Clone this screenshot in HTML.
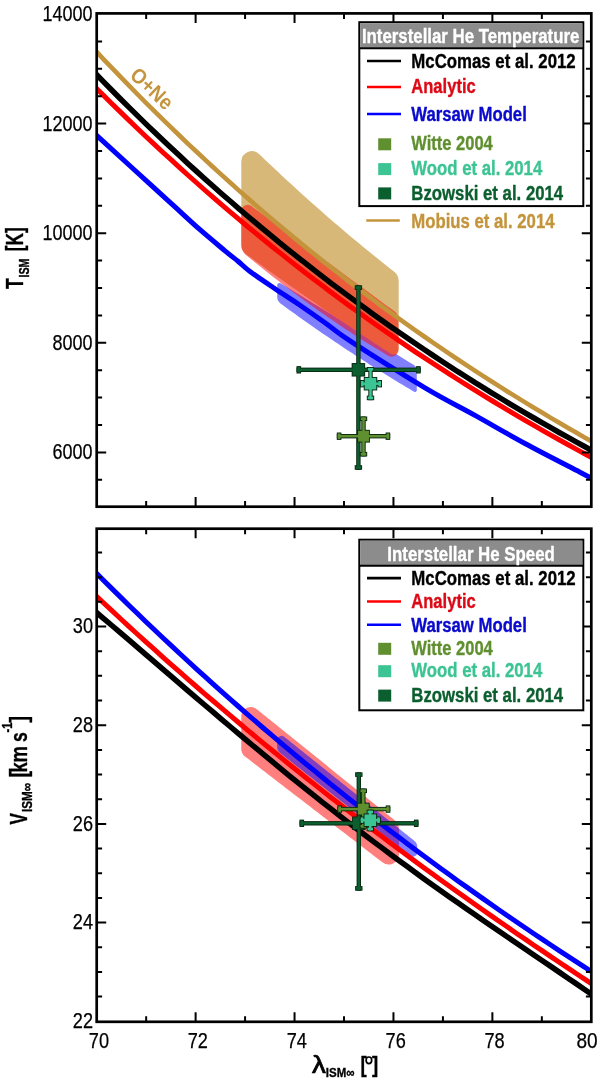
<!DOCTYPE html><html><head><meta charset="utf-8"><style>html,body{margin:0;padding:0;background:#fff;overflow:hidden}svg{display:block;will-change:transform}</style></head><body><svg width="600" height="1081" viewBox="0 0 600 1081" font-family='"Liberation Sans", sans-serif'>
<rect width="600" height="1081" fill="#fff"/>
<g>
<clipPath id="ct"><rect x="96.7" y="13.4" width="494.59999999999997" height="493.3"/></clipPath>
<clipPath id="cb"><rect x="96.7" y="528.7" width="494.59999999999997" height="493.0999999999999"/></clipPath>
<path d="M277.20,297.11 L277.20,285.20 A2.24,2.24 0 0 1 280.61,283.29 L280.78,283.39 L284.36,285.59 L287.94,287.78 L291.52,289.98 L295.10,292.17 L298.68,294.37 L302.26,296.56 L305.84,298.75 L309.42,300.95 L312.99,303.14 L316.57,305.34 L320.15,307.53 L323.73,309.72 L327.31,311.92 L330.89,314.11 L334.47,316.31 L338.05,318.50 L341.63,320.70 L345.21,322.89 L348.79,325.08 L352.37,327.28 L355.95,329.47 L359.53,331.67 L363.11,333.86 L366.69,336.06 L370.27,338.25 L373.85,340.44 L377.43,342.64 L381.01,344.83 L384.58,347.03 L388.16,349.22 L391.74,351.42 L395.32,353.61 L398.90,355.80 L402.48,358.00 L406.06,360.19 L409.64,362.39 L413.22,364.58 L414.24,365.21 A5.36,5.36 0 0 1 416.80,369.77 L416.80,390.29 A1.72,1.72 0 0 1 414.21,391.77 L413.22,391.19 L409.64,389.07 L406.06,386.94 L402.48,384.80 L398.90,382.64 L395.32,380.47 L391.74,378.28 L388.16,376.09 L384.58,373.87 L381.01,371.65 L377.43,369.41 L373.85,367.15 L370.27,364.89 L366.69,362.61 L363.11,360.31 L359.53,358.00 L355.95,355.68 L352.37,353.35 L348.79,351.00 L345.21,348.63 L341.63,346.25 L338.05,343.86 L334.47,341.46 L330.89,339.04 L327.31,336.61 L323.73,334.16 L320.15,331.70 L316.57,329.23 L312.99,326.74 L309.42,324.24 L305.84,321.72 L302.26,319.20 L298.68,316.65 L295.10,314.10 L291.52,311.53 L287.94,308.94 L284.36,306.35 L280.78,303.73 L280.43,303.47 A7.89,7.89 0 0 1 277.20,297.11 Z" fill="#0000ff" fill-opacity="0.5"/>
<path d="M241.30,244.73 L241.30,161.75 A10.56,10.56 0 0 1 259.23,154.17 L261.48,156.33 L265.52,160.19 L269.55,164.02 L273.59,167.83 L277.62,171.62 L281.66,175.38 L285.69,179.13 L289.73,182.85 L293.77,186.55 L297.80,190.23 L301.84,193.89 L305.87,197.53 L309.91,201.15 L313.95,204.74 L317.98,208.32 L322.02,211.87 L326.05,215.40 L330.09,218.91 L334.13,222.39 L338.16,225.86 L342.20,229.30 L346.23,232.73 L350.27,236.13 L354.31,239.51 L358.34,242.86 L362.38,246.20 L366.41,249.52 L370.45,252.81 L374.48,256.08 L378.52,259.33 L382.56,262.56 L386.59,265.77 L390.63,268.95 L393.97,271.57 A12.28,12.28 0 0 1 398.70,281.26 L398.70,348.96 A5.44,5.44 0 0 1 390.31,353.52 L386.59,351.10 L382.56,348.47 L378.52,345.82 L374.48,343.17 L370.45,340.50 L366.41,337.83 L362.38,335.15 L358.34,332.46 L354.31,329.77 L350.27,327.06 L346.23,324.35 L342.20,321.62 L338.16,318.89 L334.13,316.15 L330.09,313.40 L326.05,310.65 L322.02,307.88 L317.98,305.10 L313.95,302.32 L309.91,299.53 L305.87,296.73 L301.84,293.92 L297.80,291.10 L293.77,288.27 L289.73,285.44 L285.69,282.59 L281.66,279.74 L277.62,276.88 L273.59,274.01 L269.55,271.13 L265.52,268.24 L261.48,265.34 L257.44,262.44 L253.41,259.53 L249.37,256.60 L246.15,254.26 A11.79,11.79 0 0 1 241.30,244.73 Z" fill="#d8b878"/>
<path d="M241.25,245.09 L241.25,211.26 A6.42,6.42 0 0 1 251.48,206.09 L253.35,207.46 L257.38,210.43 L261.41,213.40 L265.44,216.37 L269.47,219.33 L273.51,222.30 L277.54,225.27 L281.57,228.24 L285.60,231.20 L289.63,234.17 L293.67,237.14 L297.70,240.11 L301.73,243.07 L305.76,246.04 L309.79,249.01 L313.83,251.98 L317.86,254.94 L321.89,257.91 L325.92,260.88 L329.96,263.85 L333.99,266.81 L338.02,269.78 L342.05,272.75 L346.08,275.72 L350.12,278.68 L354.15,281.65 L358.18,284.62 L362.21,287.59 L366.24,290.56 L370.28,293.52 L374.31,296.49 L378.34,299.46 L382.37,302.43 L386.40,305.39 L390.44,308.36 L394.47,311.33 L394.47,311.33 A9.89,9.89 0 0 1 398.50,319.30 L398.50,349.72 A6.91,6.91 0 0 1 388.12,355.70 L386.40,354.69 L382.37,352.29 L378.34,349.86 L374.31,347.40 L370.28,344.92 L366.24,342.41 L362.21,339.88 L358.18,337.31 L354.15,334.72 L350.12,332.10 L346.08,329.46 L342.05,326.78 L338.02,324.08 L333.99,321.36 L329.96,318.60 L325.92,315.82 L321.89,313.01 L317.86,310.17 L313.83,307.31 L309.79,304.42 L305.76,301.50 L301.73,298.55 L297.70,295.58 L293.67,292.58 L289.63,289.55 L285.60,286.50 L281.57,283.41 L277.54,280.31 L273.51,277.17 L269.47,274.00 L265.44,270.81 L261.41,267.59 L257.38,264.35 L253.35,261.07 L249.31,257.77 L245.86,254.93 A12.79,12.79 0 0 1 241.25,245.09 Z" fill="#ff0000" fill-opacity="0.5"/>
<g clip-path="url(#ct)" fill="none" stroke-linejoin="round">
<path d="M95.0,133.9 C97.5,136.2 100.8,139.2 110.0,147.6 C119.2,156.0 139.2,174.3 150.0,184.2 C160.8,194.1 166.7,199.3 175.0,206.9 C183.3,214.5 191.7,222.4 200.0,229.7 C208.3,237.0 218.7,245.5 225.0,250.8 C231.3,256.1 233.8,257.8 238.0,261.2 C242.2,264.7 243.8,266.9 250.0,271.5 C256.2,276.1 266.7,283.1 275.0,288.7 C283.3,294.3 291.7,299.5 300.0,305.2 C308.3,310.9 316.7,316.8 325.0,322.7 C333.3,328.6 333.3,330.0 350.0,340.9 C366.7,351.8 404.2,375.4 425.0,387.8 C445.8,400.2 458.3,406.1 475.0,415.4 C491.7,424.7 507.5,434.0 525.0,443.5 C542.5,453.0 568.7,466.3 580.0,472.2 C591.3,478.1 590.8,477.9 593.0,479.0" stroke="#0000ff" stroke-width="5"/>
<path d="M95.0,86.9 L103.4,95.3 L111.9,103.7 L120.3,111.9 L128.8,120.1 L137.2,128.2 L145.6,136.2 L154.1,144.1 L162.5,152.0 L171.0,159.7 L179.4,167.4 L187.8,175.0 L196.3,182.5 L204.7,190.0 L213.2,197.3 L221.6,204.6 L230.1,211.8 L238.5,218.9 L246.9,226.0 L255.4,232.9 L263.8,239.8 L272.3,246.7 L280.7,253.4 L289.1,260.1 L297.6,266.7 L306.0,273.2 L314.5,279.7 L322.9,286.1 L331.3,292.4 L339.8,298.7 L348.2,304.9 L356.7,311.0 L365.1,317.1 L373.5,323.0 L382.0,329.0 L390.4,334.8 L398.9,340.6 L407.3,346.4 L415.7,352.1 L424.2,357.7 L432.6,363.2 L441.1,368.7 L449.5,374.2 L457.9,379.5 L466.4,384.9 L474.8,390.1 L483.3,395.3 L491.7,400.5 L500.2,405.6 L508.6,410.6 L517.0,415.6 L525.5,420.6 L533.9,425.4 L542.4,430.3 L550.8,435.1 L559.2,439.8 L567.7,444.5 L576.1,449.1 L584.6,453.7 L593.0,458.3" stroke="#ff0000" stroke-width="5"/>
<path d="M95.0,73.0 L103.4,81.6 L111.9,90.2 L120.3,98.7 L128.8,107.1 L137.2,115.4 L145.6,123.6 L154.1,131.8 L162.5,139.8 L171.0,147.7 L179.4,155.6 L187.8,163.4 L196.3,171.1 L204.7,178.7 L213.2,186.2 L221.6,193.7 L230.1,201.0 L238.5,208.3 L246.9,215.5 L255.4,222.6 L263.8,229.7 L272.3,236.6 L280.7,243.5 L289.1,250.3 L297.6,257.1 L306.0,263.7 L314.5,270.3 L322.9,276.8 L331.3,283.3 L339.8,289.6 L348.2,295.9 L356.7,302.1 L365.1,308.3 L373.5,314.4 L382.0,320.4 L390.4,326.4 L398.9,332.2 L407.3,338.1 L415.7,343.8 L424.2,349.5 L432.6,355.1 L441.1,360.7 L449.5,366.2 L457.9,371.7 L466.4,377.0 L474.8,382.4 L483.3,387.6 L491.7,392.8 L500.2,398.0 L508.6,403.1 L517.0,408.1 L525.5,413.1 L533.9,418.0 L542.4,422.9 L550.8,427.7 L559.2,432.5 L567.7,437.2 L576.1,441.9 L584.6,446.5 L593.0,451.1" stroke="#000" stroke-width="5.5"/>
<path d="M95.0,50.1 L103.4,59.1 L111.9,67.9 L120.3,76.7 L128.8,85.4 L137.2,94.0 L145.6,102.5 L154.1,110.9 L162.5,119.2 L171.0,127.4 L179.4,135.5 L187.8,143.6 L196.3,151.5 L204.7,159.4 L213.2,167.2 L221.6,174.9 L230.1,182.5 L238.5,190.1 L246.9,197.5 L255.4,204.9 L263.8,212.2 L272.3,219.4 L280.7,226.5 L289.1,233.6 L297.6,240.6 L306.0,247.5 L314.5,254.3 L322.9,261.1 L331.3,267.7 L339.8,274.3 L348.2,280.9 L356.7,287.3 L365.1,293.7 L373.5,300.0 L382.0,306.3 L390.4,312.5 L398.9,318.6 L407.3,324.6 L415.7,330.6 L424.2,336.5 L432.6,342.4 L441.1,348.1 L449.5,353.9 L457.9,359.5 L466.4,365.1 L474.8,370.7 L483.3,376.1 L491.7,381.5 L500.2,386.9 L508.6,392.2 L517.0,397.4 L525.5,402.6 L533.9,407.8 L542.4,412.8 L550.8,417.9 L559.2,422.8 L567.7,427.8 L576.1,432.6 L584.6,437.5 L593.0,442.2" stroke="#c4943c" stroke-width="4.6"/>
</g>
<text x="0" y="0" font-size="21" font-weight="bold" fill="#c4943c" transform="translate(128.8,76.6) rotate(43.5)" textLength="50" lengthAdjust="spacingAndGlyphs">O+Ne</text>
<g fill="#0a2a14"><rect x="296.50" y="367.60" width="124.20" height="4.40"/><rect x="356.20" y="285.30" width="4.40" height="184.50"/><rect x="296.50" y="366.10" width="4.60" height="7.40"/><rect x="416.10" y="366.10" width="4.60" height="7.40"/><rect x="354.70" y="285.30" width="7.40" height="4.60"/><rect x="354.70" y="465.20" width="7.40" height="4.60"/><rect x="351.65" y="363.05" width="13.50" height="13.50"/></g><g fill="#0b5e2e"><rect x="297.45" y="368.55" width="122.30" height="2.50"/><rect x="357.15" y="286.25" width="2.50" height="182.60"/><rect x="297.45" y="367.05" width="2.70" height="5.50"/><rect x="417.05" y="367.05" width="2.70" height="5.50"/><rect x="355.65" y="286.25" width="5.50" height="2.70"/><rect x="355.65" y="466.15" width="5.50" height="2.70"/><rect x="352.60" y="364.00" width="11.60" height="11.60"/></g>
<g fill="#0a2a14"><rect x="336.80" y="434.00" width="53.40" height="4.40"/><rect x="361.30" y="416.50" width="4.40" height="40.00"/><rect x="336.80" y="432.50" width="4.60" height="7.40"/><rect x="385.60" y="432.50" width="4.60" height="7.40"/><rect x="359.80" y="416.50" width="7.40" height="4.60"/><rect x="359.80" y="451.90" width="7.40" height="4.60"/><rect x="357.10" y="429.80" width="12.80" height="12.80"/></g><g fill="#5f8f2f"><rect x="337.75" y="434.95" width="51.50" height="2.50"/><rect x="362.25" y="417.45" width="2.50" height="38.10"/><rect x="337.75" y="433.45" width="2.70" height="5.50"/><rect x="386.55" y="433.45" width="2.70" height="5.50"/><rect x="360.75" y="417.45" width="5.50" height="2.70"/><rect x="360.75" y="452.85" width="5.50" height="2.70"/><rect x="358.05" y="430.75" width="10.90" height="10.90"/></g>
<g fill="#0a2a14"><rect x="360.00" y="381.50" width="22.00" height="4.40"/><rect x="368.30" y="367.00" width="4.40" height="33.20"/><rect x="360.00" y="380.00" width="4.60" height="7.40"/><rect x="377.40" y="380.00" width="4.60" height="7.40"/><rect x="366.80" y="367.00" width="7.40" height="4.60"/><rect x="366.80" y="395.60" width="7.40" height="4.60"/><rect x="363.75" y="376.95" width="13.50" height="13.50"/></g><g fill="#3cc494"><rect x="360.95" y="382.45" width="20.10" height="2.50"/><rect x="369.25" y="367.95" width="2.50" height="31.30"/><rect x="360.95" y="380.95" width="2.70" height="5.50"/><rect x="378.35" y="380.95" width="2.70" height="5.50"/><rect x="367.75" y="367.95" width="5.50" height="2.70"/><rect x="367.75" y="396.55" width="5.50" height="2.70"/><rect x="364.70" y="377.90" width="11.60" height="11.60"/></g>
<rect x="96.7" y="13.4" width="494.59999999999997" height="493.3" fill="none" stroke="#000" stroke-width="2.7"/><path d="M146.16,13.4 v5.6 M146.16,506.7 v-5.6 M195.62,13.4 v9.6 M195.62,506.7 v-9.6 M245.08,13.4 v5.6 M245.08,506.7 v-5.6 M294.54,13.4 v9.6 M294.54,506.7 v-9.6 M344.00,13.4 v5.6 M344.00,506.7 v-5.6 M393.46,13.4 v9.6 M393.46,506.7 v-9.6 M442.92,13.4 v5.6 M442.92,506.7 v-5.6 M492.38,13.4 v9.6 M492.38,506.7 v-9.6 M541.84,13.4 v5.6 M541.84,506.7 v-5.6 M96.7,123.60 h9.5 M591.3,123.60 h-9.5 M96.7,233.20 h9.5 M591.3,233.20 h-9.5 M96.7,342.80 h9.5 M591.3,342.80 h-9.5 M96.7,452.40 h9.5 M591.3,452.40 h-9.5 M96.7,41.40 h5.4 M591.3,41.40 h-5.4 M96.7,68.80 h5.4 M591.3,68.80 h-5.4 M96.7,96.20 h5.4 M591.3,96.20 h-5.4 M96.7,151.00 h5.4 M591.3,151.00 h-5.4 M96.7,178.40 h5.4 M591.3,178.40 h-5.4 M96.7,205.80 h5.4 M591.3,205.80 h-5.4 M96.7,260.60 h5.4 M591.3,260.60 h-5.4 M96.7,288.00 h5.4 M591.3,288.00 h-5.4 M96.7,315.40 h5.4 M591.3,315.40 h-5.4 M96.7,370.20 h5.4 M591.3,370.20 h-5.4 M96.7,397.60 h5.4 M591.3,397.60 h-5.4 M96.7,425.00 h5.4 M591.3,425.00 h-5.4 M96.7,479.80 h5.4 M591.3,479.80 h-5.4 " stroke="#000" stroke-width="2" fill="none"/>
<rect x="359.3" y="22.2" width="224" height="183.9" fill="#fff" stroke="#000" stroke-width="2"/><rect x="360.3" y="23.2" width="222" height="24.5" fill="#8c8c8c"/><line x1="359.3" x2="583.3" y1="48.2" y2="48.2" stroke="#000" stroke-width="2"/><text x="361.9" y="43.099999999999994" font-size="19.6" font-weight="bold" fill="#fff" stroke="#fff" stroke-width="0.35" stroke-linejoin="round" text-anchor="start" textLength="217.5" lengthAdjust="spacingAndGlyphs" >Interstellar He Temperature</text><line x1="367" x2="401" y1="61" y2="61" stroke="#000" stroke-width="2.6"/><text x="411.3" y="68.1" font-size="19.4" font-weight="bold" fill="#000" stroke="#000" stroke-width="0.35" stroke-linejoin="round" text-anchor="start" textLength="164.4" lengthAdjust="spacingAndGlyphs" >McComas et al. 2012</text><line x1="367" x2="401" y1="87" y2="87" stroke="#ff0000" stroke-width="2.6"/><text x="411.3" y="93.4" font-size="19.4" font-weight="bold" fill="#dc0a16" stroke="#dc0a16" stroke-width="0.35" stroke-linejoin="round" text-anchor="start" textLength="64.4" lengthAdjust="spacingAndGlyphs" >Analytic</text><line x1="367" x2="401" y1="114" y2="114" stroke="#0000ff" stroke-width="2.6"/><text x="411.3" y="120.5" font-size="19.4" font-weight="bold" fill="#0a0acc" stroke="#0a0acc" stroke-width="0.35" stroke-linejoin="round" text-anchor="start" textLength="115.5" lengthAdjust="spacingAndGlyphs" >Warsaw Model</text><rect x="378.2" y="138.3" width="13" height="12" fill="#5f8f2f"/><text x="411.3" y="150.1" font-size="19.4" font-weight="bold" fill="#5f8f2f" stroke="#5f8f2f" stroke-width="0.35" stroke-linejoin="round" text-anchor="start" textLength="81.5" lengthAdjust="spacingAndGlyphs" >Witte 2004</text><rect x="378.2" y="163.1" width="13" height="12" fill="#3cc494"/><text x="411.3" y="175.0" font-size="19.4" font-weight="bold" fill="#3cc494" stroke="#3cc494" stroke-width="0.35" stroke-linejoin="round" text-anchor="start" textLength="130.9" lengthAdjust="spacingAndGlyphs" >Wood et al. 2014</text><rect x="378.2" y="187.4" width="13" height="12" fill="#0b5e2e"/><text x="411.3" y="199.5" font-size="19.4" font-weight="bold" fill="#0b5e2e" stroke="#0b5e2e" stroke-width="0.35" stroke-linejoin="round" text-anchor="start" textLength="151.9" lengthAdjust="spacingAndGlyphs" >Bzowski et al. 2014</text>
<line x1="366.3" x2="399.8" y1="220.5" y2="220.5" stroke="#c4943c" stroke-width="2.6"/>
<text x="411.3" y="227.7" font-size="19.4" font-weight="bold" fill="#c4943c" stroke="#c4943c" stroke-width="0.35" stroke-linejoin="round" text-anchor="start" textLength="143.2" lengthAdjust="spacingAndGlyphs" >Mobius et al. 2014</text>
</g>
<path d="M241.25,748.64 L241.25,716.57 A9.56,9.56 0 0 1 256.81,709.13 L257.43,709.63 L261.47,712.89 L265.52,716.15 L269.56,719.42 L273.61,722.68 L277.65,725.95 L281.70,729.21 L285.74,732.48 L289.79,735.74 L293.83,739.00 L297.88,742.27 L301.92,745.53 L305.97,748.80 L310.01,752.06 L314.06,755.32 L318.10,758.59 L322.15,761.85 L326.19,765.12 L330.24,768.38 L334.28,771.65 L338.33,774.91 L342.37,778.17 L346.42,781.44 L350.46,784.70 L354.51,787.97 L358.55,791.23 L362.60,794.50 L366.64,797.76 L370.69,801.02 L374.73,804.29 L378.78,807.55 L382.82,810.82 L386.87,814.08 L390.91,817.34 L394.33,820.10 A12.55,12.55 0 0 1 399.00,829.87 L399.00,854.11 A10.33,10.33 0 0 1 382.36,862.29 L378.78,859.53 L374.73,856.42 L370.69,853.30 L366.64,850.19 L362.60,847.07 L358.55,843.96 L354.51,840.84 L350.46,837.73 L346.42,834.62 L342.37,831.50 L338.33,828.39 L334.28,825.27 L330.24,822.16 L326.19,819.04 L322.15,815.93 L318.10,812.81 L314.06,809.70 L310.01,806.58 L305.97,803.47 L301.92,800.36 L297.88,797.24 L293.83,794.13 L289.79,791.01 L285.74,787.90 L281.70,784.78 L277.65,781.67 L273.61,778.55 L269.56,775.44 L265.52,772.32 L261.47,769.21 L257.43,766.10 L253.38,762.98 L249.34,759.87 L245.29,756.75 L245.21,756.69 A10.16,10.16 0 0 1 241.25,748.64 Z" fill="#ff0000" fill-opacity="0.5"/>
<path d="M277.20,747.69 L277.20,740.16 A4.33,4.33 0 0 1 284.23,736.78 L284.38,736.91 L287.98,739.78 L291.57,742.66 L295.16,745.53 L298.75,748.40 L302.35,751.28 L305.94,754.15 L309.53,757.02 L313.12,759.90 L316.72,762.77 L320.31,765.65 L323.90,768.52 L327.49,771.39 L331.08,774.27 L334.68,777.14 L338.27,780.02 L341.86,782.89 L345.45,785.76 L349.05,788.64 L352.64,791.51 L356.23,794.38 L359.82,797.26 L363.42,800.13 L367.01,803.01 L370.60,805.88 L374.19,808.75 L377.78,811.63 L381.38,814.50 L384.97,817.38 L388.56,820.25 L392.15,823.12 L395.75,826.00 L399.34,828.87 L402.93,831.74 L406.52,834.62 L410.12,837.49 L413.71,840.37 L414.18,840.74 A8.32,8.32 0 0 1 417.30,847.24 L417.30,852.37 A4.36,4.36 0 0 1 410.24,855.79 L410.12,855.69 L406.52,852.85 L402.93,850.02 L399.34,847.18 L395.75,844.34 L392.15,841.50 L388.56,838.66 L384.97,835.83 L381.38,832.99 L377.78,830.15 L374.19,827.31 L370.60,824.47 L367.01,821.64 L363.42,818.80 L359.82,815.96 L356.23,813.12 L352.64,810.28 L349.05,807.45 L345.45,804.61 L341.86,801.77 L338.27,798.93 L334.68,796.09 L331.08,793.26 L327.49,790.42 L323.90,787.58 L320.31,784.74 L316.72,781.91 L313.12,779.07 L309.53,776.23 L305.94,773.39 L302.35,770.55 L298.75,767.72 L295.16,764.88 L291.57,762.04 L287.98,759.20 L284.38,756.36 L280.79,753.53 L279.55,752.55 A6.19,6.19 0 0 1 277.20,747.69 Z" fill="#0000ff" fill-opacity="0.5"/>
<g clip-path="url(#cb)" fill="none">
<path d="M95.0,611.2 L103.4,618.3 L111.9,625.5 L120.3,632.7 L128.8,639.9 L137.2,647.1 L145.6,654.3 L154.1,661.6 L162.5,668.8 L171.0,676.1 L179.4,683.3 L187.8,690.6 L196.3,697.8 L204.7,705.0 L213.2,712.2 L221.6,719.4 L230.1,726.5 L238.5,733.6 L246.9,740.7 L255.4,747.7 L263.8,754.7 L272.3,761.7 L280.7,768.6 L289.1,775.5 L297.6,782.3 L306.0,789.1 L314.5,795.9 L322.9,802.6 L331.3,809.2 L339.8,815.8 L348.2,822.3 L356.7,828.8 L365.1,835.2 L373.5,841.6 L382.0,847.9 L390.4,854.2 L398.9,860.5 L407.3,866.6 L415.7,872.8 L424.2,878.9 L432.6,884.9 L441.1,890.9 L449.5,896.9 L457.9,902.8 L466.4,908.7 L474.8,914.6 L483.3,920.4 L491.7,926.2 L500.2,932.0 L508.6,937.8 L517.0,943.5 L525.5,949.2 L533.9,955.0 L542.4,960.7 L550.8,966.4 L559.2,972.1 L567.7,977.9 L576.1,983.6 L584.6,989.4 L593.0,995.2" stroke="#000" stroke-width="5.5"/>
<path d="M95.0,594.9 L103.4,602.8 L111.9,610.7 L120.3,618.5 L128.8,626.3 L137.2,634.0 L145.6,641.6 L154.1,649.2 L162.5,656.8 L171.0,664.3 L179.4,671.7 L187.8,679.1 L196.3,686.5 L204.7,693.8 L213.2,701.0 L221.6,708.2 L230.1,715.4 L238.5,722.5 L246.9,729.6 L255.4,736.6 L263.8,743.6 L272.3,750.5 L280.7,757.4 L289.1,764.2 L297.6,771.0 L306.0,777.7 L314.5,784.4 L322.9,791.1 L331.3,797.7 L339.8,804.3 L348.2,810.8 L356.7,817.3 L365.1,823.8 L373.5,830.2 L382.0,836.6 L390.4,842.9 L398.9,849.2 L407.3,855.5 L415.7,861.7 L424.2,867.9 L432.6,874.1 L441.1,880.2 L449.5,886.2 L457.9,892.3 L466.4,898.3 L474.8,904.3 L483.3,910.2 L491.7,916.1 L500.2,922.0 L508.6,927.8 L517.0,933.7 L525.5,939.4 L533.9,945.2 L542.4,950.9 L550.8,956.6 L559.2,962.3 L567.7,967.9 L576.1,973.5 L584.6,979.1 L593.0,984.6" stroke="#ff0000" stroke-width="5"/>
<path d="M95.0,571.8 L103.4,580.3 L111.9,588.6 L120.3,596.9 L128.8,605.2 L137.2,613.3 L145.6,621.5 L154.1,629.5 L162.5,637.5 L171.0,645.4 L179.4,653.3 L187.8,661.0 L196.3,668.8 L204.7,676.4 L213.2,684.1 L221.6,691.6 L230.1,699.1 L238.5,706.5 L246.9,713.9 L255.4,721.2 L263.8,728.5 L272.3,735.7 L280.7,742.8 L289.1,749.9 L297.6,757.0 L306.0,764.0 L314.5,770.9 L322.9,777.8 L331.3,784.6 L339.8,791.4 L348.2,798.1 L356.7,804.7 L365.1,811.4 L373.5,817.9 L382.0,824.4 L390.4,830.9 L398.9,837.3 L407.3,843.7 L415.7,850.0 L424.2,856.3 L432.6,862.5 L441.1,868.7 L449.5,874.8 L457.9,880.9 L466.4,886.9 L474.8,892.9 L483.3,898.9 L491.7,904.8 L500.2,910.7 L508.6,916.5 L517.0,922.3 L525.5,928.0 L533.9,933.7 L542.4,939.4 L550.8,945.0 L559.2,950.6 L567.7,956.1 L576.1,961.6 L584.6,967.1 L593.0,972.5" stroke="#0000ff" stroke-width="5"/>
</g>
<g fill="#0a2a14"><rect x="299.50" y="821.10" width="119.00" height="4.40"/><rect x="356.60" y="772.30" width="4.40" height="118.40"/><rect x="299.50" y="819.60" width="4.60" height="7.40"/><rect x="413.90" y="819.60" width="4.60" height="7.40"/><rect x="355.10" y="772.30" width="7.40" height="4.60"/><rect x="355.10" y="886.10" width="7.40" height="4.60"/><rect x="352.05" y="816.55" width="13.50" height="13.50"/></g><g fill="#0b5e2e"><rect x="300.45" y="822.05" width="117.10" height="2.50"/><rect x="357.55" y="773.25" width="2.50" height="116.50"/><rect x="300.45" y="820.55" width="2.70" height="5.50"/><rect x="414.85" y="820.55" width="2.70" height="5.50"/><rect x="356.05" y="773.25" width="5.50" height="2.70"/><rect x="356.05" y="887.05" width="5.50" height="2.70"/><rect x="353.00" y="817.50" width="11.60" height="11.60"/></g>
<g fill="#0a2a14"><rect x="337.40" y="806.90" width="52.90" height="4.40"/><rect x="361.10" y="788.50" width="4.40" height="40.00"/><rect x="337.40" y="805.40" width="4.60" height="7.40"/><rect x="385.70" y="805.40" width="4.60" height="7.40"/><rect x="359.60" y="788.50" width="7.40" height="4.60"/><rect x="359.60" y="823.90" width="7.40" height="4.60"/><rect x="356.90" y="802.70" width="12.80" height="12.80"/></g><g fill="#5f8f2f"><rect x="338.35" y="807.85" width="51.00" height="2.50"/><rect x="362.05" y="789.45" width="2.50" height="38.10"/><rect x="338.35" y="806.35" width="2.70" height="5.50"/><rect x="386.65" y="806.35" width="2.70" height="5.50"/><rect x="360.55" y="789.45" width="5.50" height="2.70"/><rect x="360.55" y="824.85" width="5.50" height="2.70"/><rect x="357.85" y="803.65" width="10.90" height="10.90"/></g>
<g fill="#0a2a14"><rect x="359.80" y="818.00" width="21.00" height="4.40"/><rect x="368.10" y="809.70" width="4.40" height="21.60"/><rect x="359.80" y="816.50" width="4.60" height="7.40"/><rect x="376.20" y="816.50" width="4.60" height="7.40"/><rect x="366.60" y="809.70" width="7.40" height="4.60"/><rect x="366.60" y="826.70" width="7.40" height="4.60"/><rect x="363.55" y="813.45" width="13.50" height="13.50"/></g><g fill="#3cc494"><rect x="360.75" y="818.95" width="19.10" height="2.50"/><rect x="369.05" y="810.65" width="2.50" height="19.70"/><rect x="360.75" y="817.45" width="2.70" height="5.50"/><rect x="377.15" y="817.45" width="2.70" height="5.50"/><rect x="367.55" y="810.65" width="5.50" height="2.70"/><rect x="367.55" y="827.65" width="5.50" height="2.70"/><rect x="364.50" y="814.40" width="11.60" height="11.60"/></g>
<rect x="96.7" y="528.7" width="494.59999999999997" height="493.0999999999999" fill="none" stroke="#000" stroke-width="2.7"/><path d="M146.16,528.7 v5.6 M146.16,1021.8 v-5.6 M195.62,528.7 v9.6 M195.62,1021.8 v-9.6 M245.08,528.7 v5.6 M245.08,1021.8 v-5.6 M294.54,528.7 v9.6 M294.54,1021.8 v-9.6 M344.00,528.7 v5.6 M344.00,1021.8 v-5.6 M393.46,528.7 v9.6 M393.46,1021.8 v-9.6 M442.92,528.7 v5.6 M442.92,1021.8 v-5.6 M492.38,528.7 v9.6 M492.38,1021.8 v-9.6 M541.84,528.7 v5.6 M541.84,1021.8 v-5.6 M96.7,626.50 h9.5 M591.3,626.50 h-9.5 M96.7,725.20 h9.5 M591.3,725.20 h-9.5 M96.7,823.90 h9.5 M591.3,823.90 h-9.5 M96.7,922.60 h9.5 M591.3,922.60 h-9.5 M96.7,552.47 h5.4 M591.3,552.47 h-5.4 M96.7,577.15 h5.4 M591.3,577.15 h-5.4 M96.7,601.82 h5.4 M591.3,601.82 h-5.4 M96.7,651.17 h5.4 M591.3,651.17 h-5.4 M96.7,675.85 h5.4 M591.3,675.85 h-5.4 M96.7,700.52 h5.4 M591.3,700.52 h-5.4 M96.7,749.88 h5.4 M591.3,749.88 h-5.4 M96.7,774.55 h5.4 M591.3,774.55 h-5.4 M96.7,799.22 h5.4 M591.3,799.22 h-5.4 M96.7,848.57 h5.4 M591.3,848.57 h-5.4 M96.7,873.25 h5.4 M591.3,873.25 h-5.4 M96.7,897.92 h5.4 M591.3,897.92 h-5.4 M96.7,947.27 h5.4 M591.3,947.27 h-5.4 M96.7,971.95 h5.4 M591.3,971.95 h-5.4 M96.7,996.62 h5.4 M591.3,996.62 h-5.4 " stroke="#000" stroke-width="2" fill="none"/>
<rect x="359.3" y="539.7" width="224" height="170.5999999999999" fill="#fff" stroke="#000" stroke-width="2"/><rect x="360.3" y="540.7" width="222" height="24.5" fill="#8c8c8c"/><line x1="359.3" x2="583.3" y1="565.7" y2="565.7" stroke="#000" stroke-width="2"/><text x="387.3" y="560.6" font-size="19.6" font-weight="bold" fill="#fff" stroke="#fff" stroke-width="0.35" stroke-linejoin="round" text-anchor="start" textLength="167.6" lengthAdjust="spacingAndGlyphs" >Interstellar He Speed</text><line x1="367" x2="401" y1="578.1" y2="578.1" stroke="#000" stroke-width="2.6"/><text x="411.3" y="585.3" font-size="19.4" font-weight="bold" fill="#000" stroke="#000" stroke-width="0.35" stroke-linejoin="round" text-anchor="start" textLength="164.4" lengthAdjust="spacingAndGlyphs" >McComas et al. 2012</text><line x1="367" x2="401" y1="601.5" y2="601.5" stroke="#ff0000" stroke-width="2.6"/><text x="411.3" y="608.0" font-size="19.4" font-weight="bold" fill="#dc0a16" stroke="#dc0a16" stroke-width="0.35" stroke-linejoin="round" text-anchor="start" textLength="64.4" lengthAdjust="spacingAndGlyphs" >Analytic</text><line x1="367" x2="401" y1="624.7" y2="624.7" stroke="#0000ff" stroke-width="2.6"/><text x="411.3" y="631.8" font-size="19.4" font-weight="bold" fill="#0a0acc" stroke="#0a0acc" stroke-width="0.35" stroke-linejoin="round" text-anchor="start" textLength="115.5" lengthAdjust="spacingAndGlyphs" >Warsaw Model</text><rect x="378.2" y="642.8" width="13" height="12" fill="#5f8f2f"/><text x="411.3" y="655.1" font-size="19.4" font-weight="bold" fill="#5f8f2f" stroke="#5f8f2f" stroke-width="0.35" stroke-linejoin="round" text-anchor="start" textLength="81.5" lengthAdjust="spacingAndGlyphs" >Witte 2004</text><rect x="378.2" y="665.2" width="13" height="12" fill="#3cc494"/><text x="411.3" y="677.4" font-size="19.4" font-weight="bold" fill="#3cc494" stroke="#3cc494" stroke-width="0.35" stroke-linejoin="round" text-anchor="start" textLength="130.9" lengthAdjust="spacingAndGlyphs" >Wood et al. 2014</text><rect x="378.2" y="689.6" width="13" height="12" fill="#0b5e2e"/><text x="411.3" y="702.3" font-size="19.4" font-weight="bold" fill="#0b5e2e" stroke="#0b5e2e" stroke-width="0.35" stroke-linejoin="round" text-anchor="start" textLength="151.9" lengthAdjust="spacingAndGlyphs" >Bzowski et al. 2014</text>
<text x="92.6" y="21.0" font-size="22.3" font-weight="normal" fill="#000" stroke="#000" stroke-width="0.25" stroke-linejoin="round" text-anchor="end" textLength="50.0" lengthAdjust="spacingAndGlyphs" >14000</text>
<text x="92.6" y="130.60000000000002" font-size="22.3" font-weight="normal" fill="#000" stroke="#000" stroke-width="0.25" stroke-linejoin="round" text-anchor="end" textLength="50.0" lengthAdjust="spacingAndGlyphs" >12000</text>
<text x="92.6" y="240.20000000000002" font-size="22.3" font-weight="normal" fill="#000" stroke="#000" stroke-width="0.25" stroke-linejoin="round" text-anchor="end" textLength="50.0" lengthAdjust="spacingAndGlyphs" >10000</text>
<text x="92.6" y="349.8" font-size="22.3" font-weight="normal" fill="#000" stroke="#000" stroke-width="0.25" stroke-linejoin="round" text-anchor="end" textLength="40.0" lengthAdjust="spacingAndGlyphs" >8000</text>
<text x="92.6" y="459.40000000000003" font-size="22.3" font-weight="normal" fill="#000" stroke="#000" stroke-width="0.25" stroke-linejoin="round" text-anchor="end" textLength="40.0" lengthAdjust="spacingAndGlyphs" >6000</text>
<text x="93.0" y="633.3" font-size="22.3" font-weight="normal" fill="#000" stroke="#000" stroke-width="0.25" stroke-linejoin="round" text-anchor="end" textLength="20.2" lengthAdjust="spacingAndGlyphs" >30</text>
<text x="93.0" y="731.9999999999999" font-size="22.3" font-weight="normal" fill="#000" stroke="#000" stroke-width="0.25" stroke-linejoin="round" text-anchor="end" textLength="20.2" lengthAdjust="spacingAndGlyphs" >28</text>
<text x="93.0" y="830.6999999999999" font-size="22.3" font-weight="normal" fill="#000" stroke="#000" stroke-width="0.25" stroke-linejoin="round" text-anchor="end" textLength="20.2" lengthAdjust="spacingAndGlyphs" >26</text>
<text x="93.0" y="929.3999999999999" font-size="22.3" font-weight="normal" fill="#000" stroke="#000" stroke-width="0.25" stroke-linejoin="round" text-anchor="end" textLength="20.2" lengthAdjust="spacingAndGlyphs" >24</text>
<text x="93.0" y="1028.1" font-size="22.3" font-weight="normal" fill="#000" stroke="#000" stroke-width="0.25" stroke-linejoin="round" text-anchor="end" textLength="20.2" lengthAdjust="spacingAndGlyphs" >22</text>
<text x="98.9" y="1047.9" font-size="22.3" font-weight="normal" fill="#000" stroke="#000" stroke-width="0.25" stroke-linejoin="round" text-anchor="middle" textLength="20.2" lengthAdjust="spacingAndGlyphs" >70</text>
<text x="197.82" y="1047.9" font-size="22.3" font-weight="normal" fill="#000" stroke="#000" stroke-width="0.25" stroke-linejoin="round" text-anchor="middle" textLength="20.2" lengthAdjust="spacingAndGlyphs" >72</text>
<text x="296.73999999999995" y="1047.9" font-size="22.3" font-weight="normal" fill="#000" stroke="#000" stroke-width="0.25" stroke-linejoin="round" text-anchor="middle" textLength="20.2" lengthAdjust="spacingAndGlyphs" >74</text>
<text x="395.65999999999997" y="1047.9" font-size="22.3" font-weight="normal" fill="#000" stroke="#000" stroke-width="0.25" stroke-linejoin="round" text-anchor="middle" textLength="20.2" lengthAdjust="spacingAndGlyphs" >76</text>
<text x="494.5799999999999" y="1047.9" font-size="22.3" font-weight="normal" fill="#000" stroke="#000" stroke-width="0.25" stroke-linejoin="round" text-anchor="middle" textLength="20.2" lengthAdjust="spacingAndGlyphs" >78</text>
<text x="597.6" y="1047.9" font-size="22.3" font-weight="normal" fill="#000" stroke="#000" stroke-width="0.25" stroke-linejoin="round" text-anchor="end" textLength="21.2" lengthAdjust="spacingAndGlyphs" >80</text>
<text x="312.0" y="1072.6" font-size="24" fill="#000" stroke="#000" stroke-width="0.7" textLength="13.8" lengthAdjust="spacingAndGlyphs">λ</text>
<text x="325.8" y="1076.6" font-size="13.2" font-weight="bold" fill="#000" stroke="#000" stroke-width="0.35" stroke-linejoin="round" text-anchor="start" textLength="28.6" lengthAdjust="spacingAndGlyphs" >ISM∞</text>
<text x="360.6" y="1072.2" font-size="21.6" font-weight="bold" fill="#000" stroke="#000" stroke-width="0.35" stroke-linejoin="round" text-anchor="start" textLength="6.2" lengthAdjust="spacingAndGlyphs" >[</text>
<text x="372.0" y="1072.2" font-size="21.6" font-weight="bold" fill="#000" stroke="#000" stroke-width="0.35" stroke-linejoin="round" text-anchor="start" textLength="6.2" lengthAdjust="spacingAndGlyphs" >]</text>
<ellipse cx="368.9" cy="1060.3" rx="2.8" ry="3.3" fill="none" stroke="#000" stroke-width="1.7"/>
<g transform="translate(23,289) rotate(-90)"><text x="0" y="0" font-size="23.5" font-weight="bold" fill="#000" stroke="#000" stroke-width="0.35" stroke-linejoin="round" text-anchor="start" textLength="10.8" lengthAdjust="spacingAndGlyphs" >T</text><text x="11.5" y="6" font-size="15" font-weight="bold" fill="#000" stroke="#000" stroke-width="0.35" stroke-linejoin="round" text-anchor="start" textLength="19" lengthAdjust="spacingAndGlyphs" >ISM</text><text x="37.8" y="0" font-size="23.5" font-weight="bold" fill="#000" stroke="#000" stroke-width="0.35" stroke-linejoin="round" text-anchor="start" textLength="24" lengthAdjust="spacingAndGlyphs" >[K]</text></g>
<g transform="translate(26.7,824.4) rotate(-90)"><text x="0" y="0" font-size="23.5" font-weight="bold" fill="#000" stroke="#000" stroke-width="0.35" stroke-linejoin="round" text-anchor="start" textLength="11.4" lengthAdjust="spacingAndGlyphs" >V</text><text x="12.4" y="5.2" font-size="15" font-weight="bold" fill="#000" stroke="#000" stroke-width="0.35" stroke-linejoin="round" text-anchor="start" textLength="29" lengthAdjust="spacingAndGlyphs" >ISM∞</text><text x="47.0" y="0" font-size="23.5" font-weight="bold" fill="#000" stroke="#000" stroke-width="0.35" stroke-linejoin="round" text-anchor="start" textLength="6.5" lengthAdjust="spacingAndGlyphs" >[</text><text x="51.8" y="0" font-size="23.5" font-weight="bold" fill="#000" stroke="#000" stroke-width="0.35" stroke-linejoin="round" text-anchor="start" textLength="26.5" lengthAdjust="spacingAndGlyphs" >km</text><text x="82.5" y="0" font-size="23.5" font-weight="bold" fill="#000" stroke="#000" stroke-width="0.35" stroke-linejoin="round" text-anchor="start" textLength="9.8" lengthAdjust="spacingAndGlyphs" >s</text><text x="92.0" y="-14.5" font-size="14" font-weight="bold" fill="#000" stroke="#000" stroke-width="0.35" stroke-linejoin="round" text-anchor="start" textLength="10.0" lengthAdjust="spacingAndGlyphs" >-1</text><text x="101.8" y="0" font-size="23.5" font-weight="bold" fill="#000" stroke="#000" stroke-width="0.35" stroke-linejoin="round" text-anchor="start" textLength="6.5" lengthAdjust="spacingAndGlyphs" >]</text></g>
</svg></body></html>
